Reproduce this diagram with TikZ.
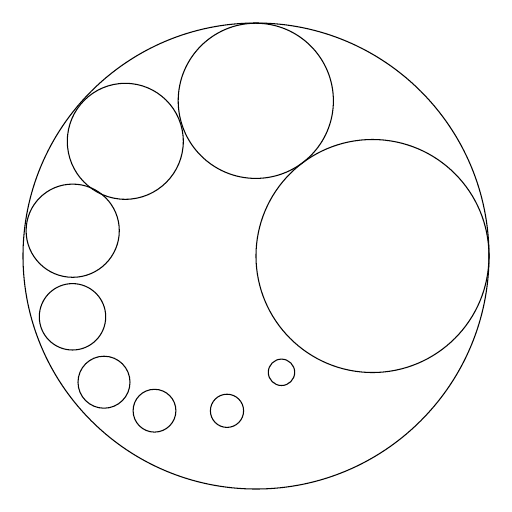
\documentclass[tikz,border=0pt]{standalone}
\begin{document}
\begin{tikzpicture}[x=0.02cm,y=-0.02cm,ring/.style={draw=black,line width=0.6pt}]
\useasboundingbox (0,0) rectangle (512,512);
\draw[ring] (256,256) circle[radius=233];
\draw[ring] (372.5,256) circle[radius=116.5];
\draw[ring] (255.8,100.8) circle[radius=77.6];
\draw[ring] (125.3,141.3) circle[radius=58];
\draw[ring] (72.7,230.7) circle[radius=46.6];
\draw[ring] (72.5,316.8) circle[radius=33.2];
\draw[ring] (104,382.2) circle[radius=26];
\draw[ring] (154.5,410.7) circle[radius=21.4];
\draw[ring] (227,410.8) circle[radius=16.6];
\draw[ring] (281.5,372.3) circle[radius=13.2];
\end{tikzpicture}
\end{document}
